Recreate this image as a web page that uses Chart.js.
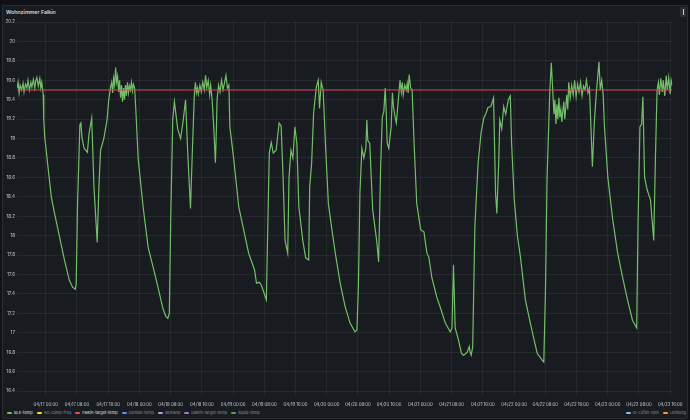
<!DOCTYPE html>
<html>
<head>
<meta charset="utf-8">
<script src="https://cdn.jsdelivr.net/npm/chart.js@4.4.1/dist/chart.umd.min.js"></script>
<style>
  html, body { margin: 0; padding: 0; background: #111217; width: 690px; height: 420px; overflow: hidden; font-family: Inter, "Noto Sans", sans-serif; }
  .panel { position: absolute; left: 2px; top: 5px; width: 684px; height: 412px; background: #181b1f; border: 1px solid rgba(204,204,220,0.10); border-radius: 2px; }
  .title { position: absolute; left: 6px; top: 8.5px; font-size: 5.3px; font-weight: 500; color: #e4e4ea; }
  .menu { position: absolute; left: 680px; top: 7px; width: 6px; height: 10px; background: #2a2d33; border-radius: 1px; }
  .menu:after { content: ''; position: absolute; left: 2.5px; top: 2px; width: 1px; height: 6px; background: #c8c8d0; }
  #wrap { position: absolute; left: 0; top: 16px; width: 690px; height: 394px; }
  .legend { position: absolute; top: 410px; font-size: 4px; display: flex; gap: 4px; align-items: center; }
  .legend span.item { display: flex; align-items: center; color: #8e8f96; }
  .legend span.item.on { color: #e0e0e6; }
  .legend i { display: inline-block; width: 5px; height: 2px; border-radius: 1px; margin-right: 2px; }
</style>
</head>
<body>
<div class="panel"></div>
<div class="title">Wohnzimmer Falkin</div>
<div class="menu"></div>
<div id="wrap"><canvas id="chartTemp"></canvas></div>
<div class="legend" id="legendLeft" style="left:7px"></div>
<div class="legend" id="legendRight" style="right:4px"></div>
<script>
// hours since 04/17 00:00
const hours = [
  -7.32,-7.07,-6.81,-6.56,-6.18,-5.80,-5.55,-5.17,-4.80,-4.54,-4.16,-3.79,-3.53,-3.15,-2.78,-2.52,-2.27,-1.89,-1.51,-1.26,-1.01,-0.76,
  -0.63,-0.50,-0.25,0.58,1.44,2.27,3.53,4.80,6.06,6.89,7.57,7.82,
  8.15,8.76,9.01,9.34,9.84,10.68,11.10,11.79,12.37,13.20,13.63,14.06,14.89,15.32,15.72,16.15,16.58,
  16.91,17.16,17.41,17.67,17.92,18.17,18.42,18.68,18.93,19.18,19.43,19.68,19.94,20.19,20.44,20.69,20.95,21.20,21.45,21.70,21.96,22.21,22.46,22.79,
  23.09,23.72,24.98,26.25,27.51,28.77,30.03,30.79,31.30,31.67,
  32.05,32.56,32.98,33.82,34.57,35.21,35.84,36.34,37.10,37.60,38.11,
  38.36,38.61,38.86,39.12,39.50,39.87,40.25,40.63,40.96,41.26,41.64,42.02,42.27,42.65,43.08,43.48,43.74,43.91,44.29,44.67,45.05,45.43,45.80,46.18,46.56,46.94,
  47.19,48.20,49.46,50.73,51.99,53.50,54.01,54.76,55.27,56.53,
  56.96,57.29,57.79,58.30,59.05,59.81,60.32,60.82,61.33,62.01,62.34,62.84,63.34,63.85,64.35,64.86,65.87,66.63,67.38,67.64,68.14,68.64,69.33,69.83,70.16,70.59,71.09,
  71.67,72.43,73.44,74.20,75.46,76.72,77.98,79.24,79.75,
  80.13,80.51,81.01,81.52,82.02,82.28,82.53,83.03,83.79,84.80,85.30,85.81,86.24,86.64,86.99,87.25,87.50,87.90,88.51,88.83,89.09,89.52,89.84,90.35,90.78,
  91.11,91.36,91.61,91.99,92.37,92.62,92.87,93.12,93.50,93.88,
  94.39,95.07,96.08,96.91,97.67,98.17,98.93,100.19,101.20,102.39,103.65,104.10,104.48,104.91,105.74,106.50,107.01,107.43,108.01,108.52,108.77,109.02,109.40,
  109.96,110.79,111.55,112.23,112.81,113.31,114.07,114.75,115.26,115.59,116.09,116.34,116.84,117.35,117.86,118.54,119.04,
  119.37,120.05,120.88,121.64,122.90,124.17,125.18,125.93,127.19,127.62,
  128.03,128.46,129.14,129.54,129.97,
  130.22,130.47,130.73,130.98,131.23,131.48,131.74,131.99,132.24,132.49,132.75,133.00,133.25,133.50,133.76,134.01,
  134.39,134.77,135.15,135.52,135.90,136.28,136.66,137.04,137.42,137.79,138.17,138.55,138.93,139.31,139.81,140.07,140.57,141.08,141.76,142.08,142.46,142.84,
  143.17,144.03,145.29,146.55,147.81,149.07,150.34,151.42,
  151.75,152.25,152.68,153.01,153.44,154.12,154.95,155.79,156.22,156.64,
  156.97,157.22,157.60,157.98,158.23,158.61,158.99,159.24,159.62,160.00,160.25,160.50
];
const bleTemp = [
  19.52,19.58,19.47,19.55,19.50,19.57,19.48,19.56,19.52,19.60,19.50,19.58,19.53,19.61,19.52,19.60,19.63,19.54,19.62,19.52,19.58,19.50,
  19.45,19.2,19.02,18.71,18.40,18.23,17.99,17.75,17.54,17.47,17.45,17.50,
  18.3,19.14,19.16,19.0,18.90,18.86,19.05,19.21,18.5,17.93,18.5,18.88,19.0,19.10,19.19,19.40,19.52,
  19.58,19.47,19.62,19.55,19.73,19.58,19.64,19.48,19.60,19.42,19.55,19.38,19.52,19.40,19.55,19.44,19.58,19.47,19.54,19.50,19.58,19.49,19.56,19.52,
  19.3,18.78,18.29,17.88,17.68,17.47,17.25,17.17,17.15,17.20,
  18.2,19.2,19.38,19.1,19.0,19.18,19.40,18.9,18.28,18.9,19.47,
  19.58,19.47,19.52,19.46,19.55,19.48,19.58,19.50,19.65,19.52,19.60,19.45,19.55,19.40,19.10,18.75,19.1,19.40,19.55,19.48,19.60,19.50,19.57,19.65,19.52,19.55,
  19.12,18.78,18.30,18.06,17.82,17.65,17.51,17.52,17.49,17.34,
  18.2,18.85,18.96,18.85,18.88,19.16,19.13,18.6,17.95,17.82,18.6,18.88,18.80,19.12,18.95,18.30,17.95,17.77,17.75,18.5,18.75,19.26,19.53,19.60,19.31,19.58,19.50,
  18.95,18.33,18.03,17.82,17.51,17.27,17.10,17.01,17.03,
  17.5,18.44,18.90,18.80,18.90,19.19,18.98,18.95,18.26,17.95,17.73,18.7,19.22,19.28,19.52,19.27,18.95,18.90,19.12,19.47,19.33,19.22,19.16,19.40,19.60,
  19.48,19.58,19.45,19.55,19.50,19.57,19.47,19.66,19.52,19.50,
  18.95,18.33,18.06,18.04,17.82,17.78,17.57,17.37,17.25,17.10,17.01,17.05,17.70,17.05,16.93,16.79,16.77,16.78,16.80,16.86,16.80,16.77,16.85,
  18.09,18.75,19.06,19.21,19.26,19.32,19.33,19.42,18.44,18.23,18.78,19.19,19.10,19.33,19.25,19.40,19.44,
  18.95,18.37,17.99,17.78,17.34,17.10,16.92,16.79,16.72,16.70,
  17.4,18.60,19.47,19.78,19.45,
  19.25,19.40,19.15,19.35,19.20,19.42,19.22,19.30,19.17,19.28,19.38,19.20,19.32,19.45,19.30,19.58,
  19.42,19.55,19.45,19.60,19.43,19.56,19.48,19.58,19.44,19.54,19.50,19.60,19.47,19.52,19.0,18.71,19.17,19.47,19.79,19.50,19.60,19.45,
  19.12,18.60,18.16,17.82,17.57,17.34,17.13,17.05,
  18.09,19.12,19.15,19.43,18.60,18.47,18.37,17.95,18.8,19.50,
  19.58,19.45,19.62,19.48,19.60,19.44,19.65,19.50,19.63,19.46,19.60,19.55
];
const targetHours = [-7.32, 160.5];
const targetTemp = [19.5, 19.5];

const yTicks = [16.4,16.6,16.8,17,17.2,17.4,17.6,17.8,18,18.2,18.4,18.6,18.8,19,19.2,19.4,19.6,19.8,20,20.2];
const xTickHours = [0,8,16,24,32,40,48,56,64,72,80,88,96,104,112,120,128,136,144,152,160];
const xTickLabels = ['04/17 00:00','04/17 08:00','04/17 16:00','04/18 00:00','04/18 08:00','04/18 16:00','04/19 00:00','04/19 08:00','04/19 16:00',
  '04/20 00:00','04/20 08:00','04/20 16:00','04/21 00:00','04/21 08:00','04/21 16:00','04/22 00:00','04/22 08:00','04/22 16:00',
  '04/23 00:00','04/23 08:00','04/23 16:00'];

const legendLeft = [
  { name: 'BLE-temp', color: '#73BF69', on: true },
  { name: 'AG-comp-freq', color: '#FADE2A' },
  { name: 'Falkin-target-temp', color: '#F2495C', on: true },
  { name: 'outside-temp', color: '#5794F2' },
  { name: 'demand', color: '#CA95E5' },
  { name: 'Daikin-target-temp', color: '#9B7AD6' },
  { name: 'liquid-temp', color: '#56A64B' }
];
const legendRight = [
  { name: 'ID-Lüfter-rpm', color: '#8AB8FF' },
  { name: 'Leistung', color: '#FF9830' }
];

function renderLegend(id, items) {
  document.getElementById(id).innerHTML = items.map(l =>
    `<span class="item${l.on ? ' on' : ''}"><i style="background:${l.color}"></i>${l.name}</span>`).join('');
}
renderLegend('legendLeft', legendLeft);
renderLegend('legendRight', legendRight);

const gridColor = 'rgba(204,204,220,0.08)';
const tickColor = 'rgba(220,220,228,0.9)';

new Chart(document.getElementById('chartTemp'), {
  type: 'line',
  data: {
    datasets: [
      {
        label: 'Falkin-target-temp',
        data: targetHours.map((h, i) => ({ x: h, y: targetTemp[i] })),
        borderColor: '#E0475A', borderWidth: 1, pointRadius: 0, tension: 0
      },
      {
        label: 'BLE-temp',
        data: hours.map((h, i) => ({ x: h, y: bleTemp[i] })),
        borderColor: '#73BF69', borderWidth: 1.2, pointRadius: 0, tension: 0
      }
    ]
  },
  options: {
    responsive: true, maintainAspectRatio: false, animation: false,
    layout: { padding: { top: 6, right: 7, left: 0, bottom: 0 } },
    plugins: { legend: { display: false }, tooltip: { enabled: false } },
    scales: {
      x: {
        type: 'linear', min: -7.35, max: 160.55,
        afterBuildTicks: s => { s.ticks = xTickHours.map(v => ({ value: v })); },
        afterFit: s => { s.height = 15; },
        grid: { color: gridColor, drawTicks: false },
        border: { display: false },
        ticks: {
          color: tickColor, padding: 7.5, maxRotation: 0, autoSkip: false,
          font: { family: 'Inter', size: 4.3 },
          callback: v => xTickLabels[xTickHours.indexOf(v)]
        }
      },
      y: {
        min: 16.36, max: 20.2,
        afterBuildTicks: s => { s.ticks = yTicks.map(v => ({ value: v })); },
        afterFit: s => { s.width = 17; },
        grid: { color: gridColor, drawTicks: false },
        border: { display: false },
        ticks: {
          color: tickColor, padding: 2,
          font: { family: 'Inter', size: 4.5 },
          callback: v => String(Number(v.toFixed(1)))
        }
      }
    }
  }
});
</script>
</body>
</html>
